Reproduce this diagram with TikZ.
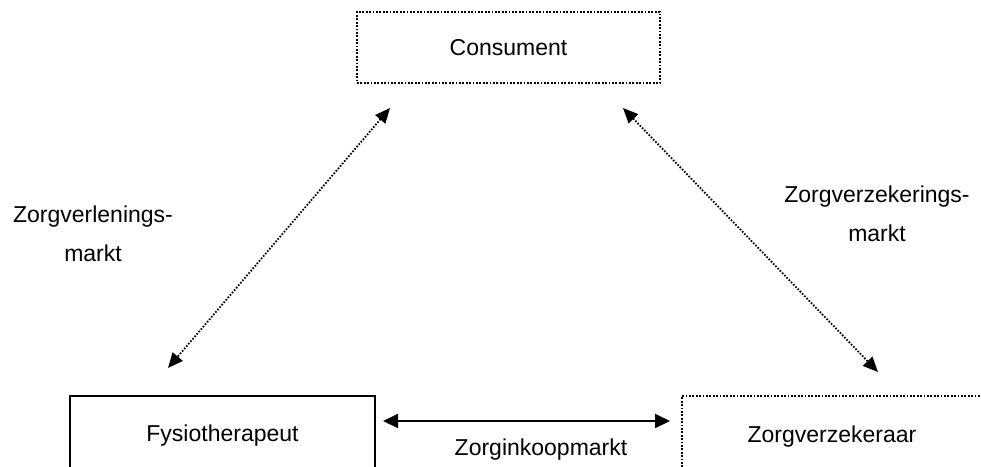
\documentclass[tikz,border=0pt]{standalone}
\usepackage{fontspec}
\setmainfont{Liberation Sans}
\usetikzlibrary{arrows.meta}

\tikzset{
  markt/.style={font=\fontsize{23}{39}\selectfont,inner sep=0pt,align=center},
  dotbox/.style={draw,line width=1.8pt,dash pattern=on 1.8pt off 1.6pt,font=\fontsize{23}{28}\selectfont,inner sep=0pt},
  solidbox/.style={draw,line width=1.8pt,font=\fontsize{23}{28}\selectfont,inner sep=0pt},
  dotarrow/.style={{Triangle[length=15pt,width=13pt]}-{Triangle[length=15pt,width=13pt]},line width=1.8pt,dash pattern=on 1.6pt off 1.6pt},
  solidarrow/.style={{Triangle[length=15pt,width=14pt]}-{Triangle[length=15pt,width=14pt]},line width=2pt}
}

\begin{document}
\begin{tikzpicture}[x=1pt,y=-1pt]
\useasboundingbox (0,0) rectangle (981,466);
\clip (0,0) rectangle (981,466);

\node[dotbox,minimum width=303pt,minimum height=71pt] (consument) at (508.5,47.5) {Consument};
\node[solidbox,minimum width=305pt,minimum height=80pt] (fysio) at (222.5,436) {Fysiotherapeut};
\node[dotbox,minimum width=300pt,minimum height=82pt] (verzekeraar) at (832,437) {Zorgverzekeraar};

\coordinate (lt) at (390,108);
\coordinate (lb) at (168,368);
\coordinate (rt) at (623,108);
\coordinate (rb) at (878,372);
\coordinate (ml) at (383,421);
\coordinate (mr) at (670,421);

\draw[dotarrow] (lt) -- (lb);
\draw[dotarrow] (rt) -- (rb);
\draw[solidarrow] (ml) -- (mr);

\node[markt] (verlening) at (93,234) {Zorgverlenings-\\markt};
\node[markt] (verzekering) at (877,214) {Zorgverzekerings-\\markt};
\node[markt] (inkoop) at (541,450) {Zorginkoopmarkt};
%\draw (0,0) rectangle (981,466);

\end{tikzpicture}
\end{document}
